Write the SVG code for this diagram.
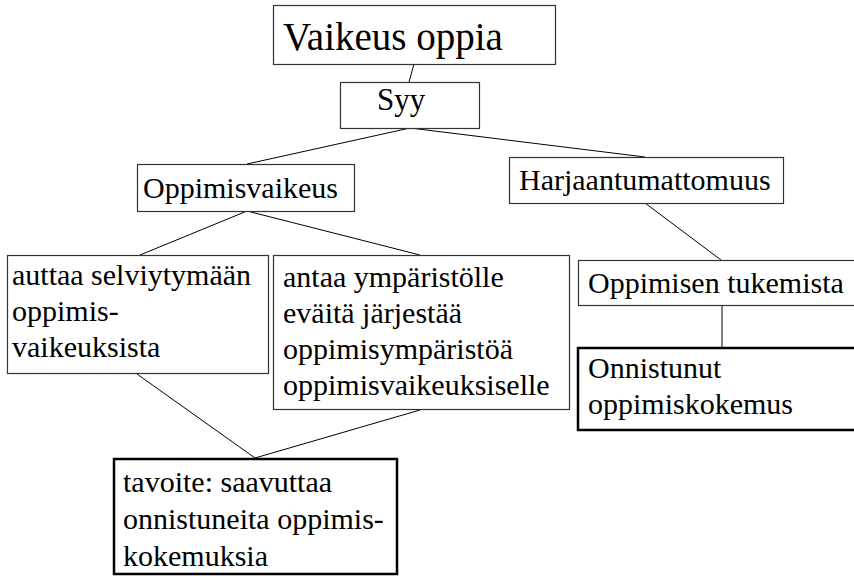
<svg xmlns="http://www.w3.org/2000/svg" width="854" height="576" viewBox="0 0 854 576">
<style>
.box{fill:#fff;stroke:#333;stroke-width:1.2}
.thick{fill:#fff;stroke:#000;stroke-width:2.5}
.c line{stroke:#000;stroke-width:1}
</style>
<rect width="854" height="576" fill="#fff"/>
<g class="c" id="connectors">
<line x1="414" y1="64" x2="409" y2="82"/>
<line x1="410" y1="128" x2="247" y2="164"/>
<line x1="410" y1="128" x2="645" y2="157"/>
<line x1="247" y1="211" x2="140" y2="255"/>
<line x1="247" y1="211" x2="420" y2="255"/>
<line x1="137" y1="374" x2="255" y2="458"/>
<line x1="420" y1="410" x2="255" y2="458"/>
<line x1="645" y1="203" x2="721" y2="260"/>
<line x1="722" y1="305" x2="722" y2="348"/>
</g>
<g font-family="Liberation Serif, serif" font-size="30" fill="#000">
<g id="n-vaikeus"><rect class="box" x="273.5" y="5.5" width="282" height="59"/><text x="283" y="50" font-size="39">Vaikeus oppia</text></g>
<g id="n-syy"><rect class="box" x="340.5" y="82.5" width="139" height="46"/><text x="377" y="110" font-size="31">Syy</text></g>
<g id="n-oppimisvaikeus"><rect class="box" x="137.5" y="164.5" width="217" height="47"/><text x="143" y="198">Oppimisvaikeus</text></g>
<g id="n-harj"><rect class="box" x="509.5" y="157.5" width="274" height="46"/><text x="519" y="190">Harjaantumattomuus</text></g>
<g id="n-auttaa"><rect class="box" x="7.5" y="255.5" width="261" height="118"/><text x="12" y="285">auttaa selviytymään</text><text x="12" y="321">oppimis-</text><text x="12" y="357">vaikeuksista</text></g>
<g id="n-antaa"><rect class="box" x="273.5" y="255.5" width="296" height="154"/><text x="283" y="287">antaa ympäristölle</text><text x="283" y="323">eväitä järjestää</text><text x="283" y="359">oppimisympäristöä</text><text x="283" y="395">oppimisvaikeuksiselle</text></g>
<g id="n-tukemista"><rect class="box" x="578.5" y="260.5" width="300" height="45"/><text x="588" y="293">Oppimisen tukemista</text></g>
<g id="n-onnistunut"><rect class="thick" x="578" y="348" width="300" height="82"/><text x="588" y="378">Onnistunut</text><text x="588" y="414">oppimiskokemus</text></g>
<g id="n-tavoite"><rect class="thick" x="114" y="459" width="283" height="115"/><text x="123" y="492">tavoite: saavuttaa</text><text x="123" y="529">onnistuneita oppimis-</text><text x="123" y="566">kokemuksia</text></g>
</g>
</svg>
